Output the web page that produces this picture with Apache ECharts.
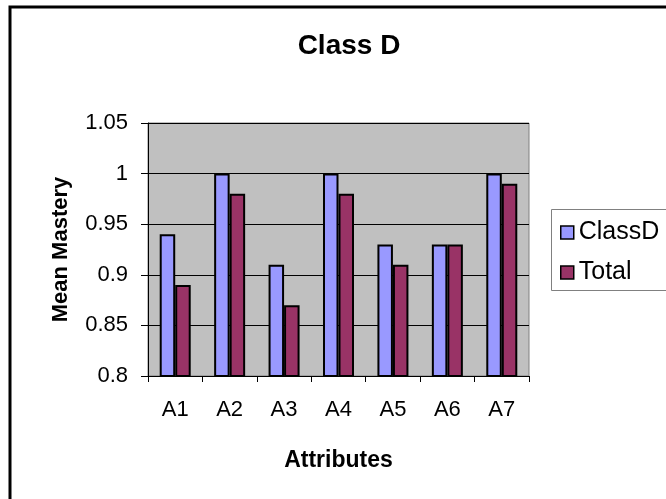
<!DOCTYPE html>
<html>
<head>
<meta charset="utf-8">
<script src="https://cdn.jsdelivr.net/npm/echarts@6/dist/echarts.min.js"></script>
<style>
  html, body { margin: 0; padding: 0; background: #fff; }
  #chart { width: 666px; height: 499px; }
</style>
</head>
<body>
<div id="chart"></div>
<script>
// Mean mastery per attribute: Class D against the whole group
const categories = ['A1', 'A2', 'A3', 'A4', 'A5', 'A6', 'A7'];
const classD = [0.94, 1.00, 0.91, 1.00, 0.93, 0.93, 1.00];
const total = [0.89, 0.98, 0.87, 0.98, 0.91, 0.93, 0.99];
const seriesNames = ['ClassD', 'Total'];
const yMin = 0.8, yMax = 1.05, yStep = 0.05;

const FONT = '"Liberation Sans", Arial, sans-serif';
const chart = echarts.init(document.getElementById('chart'), null, { renderer: 'canvas' });

chart.setOption({
  animation: false,
  backgroundColor: '#ffffff',
  textStyle: { fontFamily: FONT, color: '#000' },
  title: {
    text: 'Class D',
    left: 344, top: 27, textAlign: 'center',
    textStyle: { fontFamily: FONT, fontSize: 28, fontWeight: 'bold', color: '#000' }
  },
  graphic: [
    {
      // outer chart frame
      type: 'rect', shape: { x: 10, y: 7, width: 700, height: 520 },
      style: { fill: null, stroke: '#000', lineWidth: 3 }, silent: true, z: -1
    },
    {
      // legend frame
      type: 'rect', shape: { x: 551.5, y: 209.5, width: 140, height: 81 },
      style: { fill: '#fff', stroke: '#808080', lineWidth: 1 }, silent: true, z: 0
    }
  ],
  legend: {
    data: seriesNames,
    orient: 'vertical',
    left: 555, top: 215,
    itemWidth: 13, itemHeight: 13, itemGap: 15,
    icon: 'rect',
    itemStyle: { borderColor: '#000', borderWidth: 1.5 },
    textStyle: { fontFamily: FONT, fontSize: 25, color: '#000' },
    z: 5
  },
  grid: {
    left: 148, top: 123, width: 381, height: 253,
    show: true, backgroundColor: '#c0c0c0', borderColor: '#808080', borderWidth: 1
  },
  xAxis: {
    type: 'category',
    data: categories,
    name: 'Attributes',
    nameLocation: 'middle', nameGap: 73,
    nameTextStyle: { fontFamily: FONT, fontSize: 23, fontWeight: 'bold', color: '#000' },
    axisLine: { lineStyle: { color: '#000', width: 1 } },
    axisTick: { show: true, length: 6, lineStyle: { color: '#000' } },
    axisLabel: { fontFamily: FONT, fontSize: 22, color: '#000', margin: 23 }
  },
  yAxis: {
    type: 'value',
    min: yMin, max: yMax, interval: yStep,
    name: 'Mean Mastery',
    nameLocation: 'middle', nameGap: 76, nameRotate: 90,
    nameTextStyle: { fontFamily: FONT, fontSize: 22, fontWeight: 'bold', color: '#000' },
    axisLine: { show: true, lineStyle: { color: '#000', width: 1 } },
    axisTick: { show: true, length: 7, lineStyle: { color: '#000' } },
    axisLabel: {
      fontFamily: FONT, fontSize: 22, color: '#000', margin: 20,
      formatter: v => String(Math.round(v * 100) / 100)
    },
    splitLine: { show: true, lineStyle: { color: '#000', width: 1 } }
  },
  series: [
    {
      name: seriesNames[0], type: 'bar', data: classD,
      barWidth: 15.5, barGap: '0%',
      itemStyle: { color: '#9999ff', borderColor: '#000', borderWidth: 2 }
    },
    {
      name: seriesNames[1], type: 'bar', data: total,
      barWidth: 15.5, barGap: '0%',
      itemStyle: { color: '#993366', borderColor: '#000', borderWidth: 2 }
    }
  ]
});
</script>
</body>
</html>
